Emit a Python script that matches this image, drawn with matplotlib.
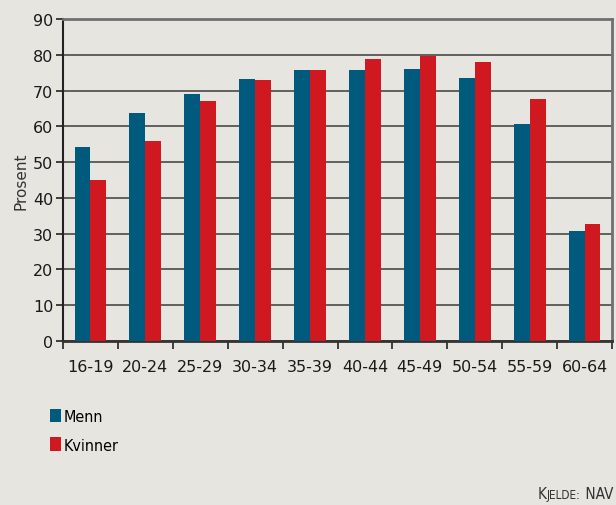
import matplotlib.pyplot as plt
import numpy as np
from matplotlib.offsetbox import TextArea, HPacker, AnchoredOffsetbox

age_groups = ['16-19', '20-24', '25-29', '30-34', '35-39',
              '40-44', '45-49', '50-54', '55-59', '60-64']
menn = [54.2, 63.7, 69.0, 73.2, 75.7, 75.7, 76.0, 73.5, 60.6, 30.7]
kvinner = [45.0, 55.9, 67.1, 72.9, 75.7, 78.8, 79.7, 78.0, 67.6, 32.6]

bg = '#e6e5df'
blue = '#005a7e'
red = '#d01820'

plt.rcParams['font.family'] = ['DejaVu Sans']

fig = plt.figure(figsize=(6.16, 5.06), dpi=100, facecolor=bg)
ax = fig.add_axes([0.1023, 0.324, 0.8912, 0.6365], facecolor=bg)

x = np.arange(len(age_groups))
w = 0.29
ax.bar(x - w / 2, menn, w, color=blue, label='Menn', zorder=3)
ax.bar(x + w / 2, kvinner, w, color=red, label='Kvinner', zorder=3)

ax.set_xlim(-0.5, len(age_groups) - 0.5)
ax.set_ylim(0, 90)
ax.set_yticks(range(0, 91, 10))
ax.yaxis.grid(True, color='#4a4a4a', lw=1.2, zorder=0)

ax.set_xticks(x)
ax.set_xticklabels(age_groups, fontsize=11.5, color='#1a1a1a')
ax.set_xticks(np.arange(-0.5, len(age_groups), 1), minor=True)
ax.tick_params(axis='x', which='major', length=0, pad=13)
ax.tick_params(axis='x', which='minor', length=6, width=1.2, color='#222222', direction='out')
ax.tick_params(axis='y', length=5, width=1.2, color='#222222', labelsize=11.5, labelcolor='#1a1a1a', pad=2)

for side in ['top', 'right']:
    ax.spines[side].set_color('#707070')
    ax.spines[side].set_linewidth(2)
ax.spines['left'].set_color('#222222')
ax.spines['left'].set_linewidth(1.5)
ax.spines['bottom'].set_color('#333333')
ax.spines['bottom'].set_linewidth(2)

ax.set_ylabel('Prosent', fontsize=11, color='#333333', labelpad=3)

leg = fig.legend(loc='upper left', bbox_to_anchor=(0.07, 0.203), frameon=False,
                 prop={'family': 'DejaVu Sans', 'stretch': 'condensed', 'size': 11.5},
                 handlelength=0.75, handleheight=0.9, handletextpad=0.15, labelspacing=0.85,
                 borderaxespad=0)

# source line in small caps
big = {'family': 'DejaVu Sans', 'stretch': 'condensed', 'size': 11, 'color': '#333333'}
small = {'family': 'DejaVu Sans', 'stretch': 'condensed', 'size': 8.5, 'color': '#333333'}
src = HPacker(children=[TextArea('K', textprops=big), TextArea('JELDE:', textprops=small),
                        TextArea(' NAV', textprops=big)], align='baseline', pad=0, sep=0)
box = AnchoredOffsetbox(loc='lower right', child=src, frameon=False,
                        bbox_to_anchor=(0.995, 0.008), bbox_transform=fig.transFigure,
                        borderpad=0, pad=0)
fig.add_artist(box)

fig.savefig('out.png', dpi=100, facecolor=bg)
